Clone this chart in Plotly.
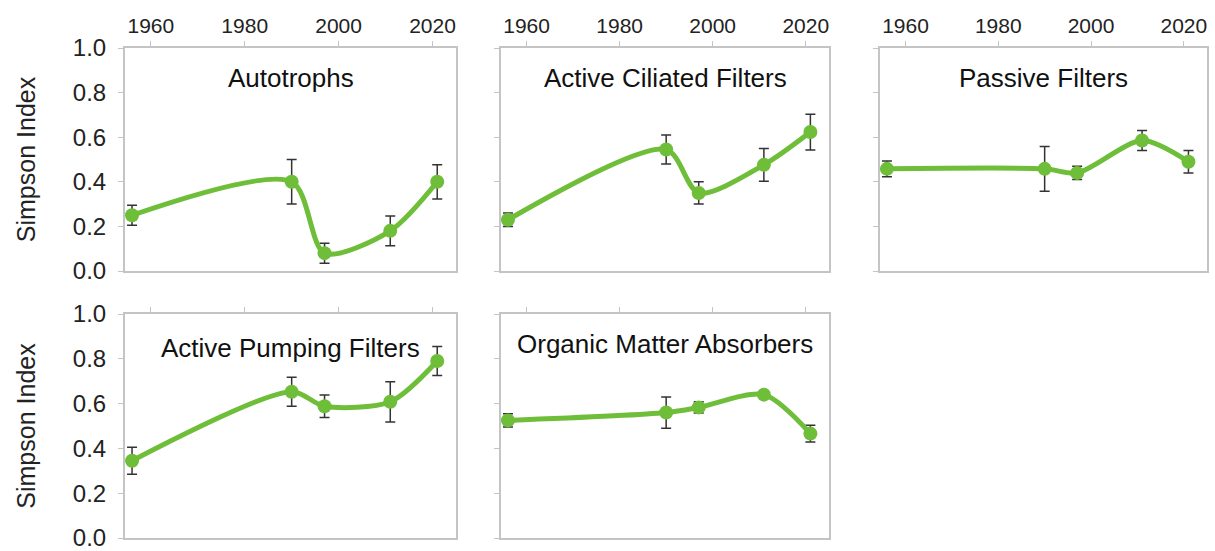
import plotly.graph_objects as go
from plotly.subplots import make_subplots

# Sampling years (shared by all panels)
years = [1956, 1990, 1997, 2011, 2021]

# Simpson index means and error (± half-range) per functional group
autotrophs = [0.25, 0.40, 0.08, 0.18, 0.40]
autotrophs_err = [0.045, 0.10, 0.045, 0.067, 0.077]

ciliated = [0.23, 0.545, 0.35, 0.476, 0.623]
ciliated_err = [0.03, 0.065, 0.05, 0.073, 0.08]

passive = [0.458, 0.458, 0.44, 0.585, 0.49]
passive_err = [0.035, 0.10, 0.03, 0.045, 0.05]

pumping = [0.345, 0.653, 0.588, 0.608, 0.79]
pumping_err = [0.06, 0.065, 0.05, 0.09, 0.065]

organic = [0.525, 0.56, 0.583, 0.64, 0.466]
organic_err = [0.03, 0.07, 0.025, 0.015, 0.037]

panel_titles = ["Autotrophs", "Active Ciliated Filters", "Passive Filters",
                "Active Pumping Filters", "Organic Matter Absorbers"]
panel_data = [(autotrophs, autotrophs_err), (ciliated, ciliated_err),
              (passive, passive_err), (pumping, pumping_err),
              (organic, organic_err)]
panel_pos = [(1, 1), (1, 2), (1, 3), (2, 1), (2, 2)]

x_ticks = [1960, 1980, 2000, 2020]
y_ticks = [0.0, 0.2, 0.4, 0.6, 0.8, 1.0]

GREEN = '#6fbe3a'
AXIS = '#c4c4c4'
FONT = 'Liberation Sans, Arial, sans-serif'

W, H = 1215, 551
col_px = [(125, 456), (501, 829), (880, 1207)]
row_px = [(48, 271), (314, 538)]

fig = make_subplots(rows=2, cols=3)

for (vals, errs), (r, c) in zip(panel_data, panel_pos):
    fig.add_trace(
        go.Scatter(x=years, y=vals, mode='lines+markers',
                   line=dict(color=GREEN, width=5, shape='spline', smoothing=0.8),
                   marker=dict(color=GREEN, size=14),
                   error_y=dict(type='data', array=errs, visible=True,
                                color='#333333', thickness=1.5, width=5),
                   showlegend=False),
        row=r, col=c)

# Explicit panel placement in pixels
for r in range(2):
    for c in range(3):
        idx = r * 3 + c + 1
        suffix = '' if idx == 1 else str(idx)
        x0, x1 = col_px[c]
        y0, y1 = row_px[r]
        fig.layout['xaxis' + suffix].domain = [x0 / W, x1 / W]
        fig.layout['yaxis' + suffix].domain = [1 - y1 / H, 1 - y0 / H]

for r in (1, 2):
    for c in (1, 2, 3):
        visible = not (r == 2 and c == 3)
        fig.update_xaxes(range=[1954.5, 2025], tickvals=x_ticks,
                         side='top', showticklabels=(r == 1), automargin=False,
                         ticklabeloverflow='allow',
                         ticks='outside', ticklen=5, tickcolor=AXIS,
                         showline=True, linecolor=AXIS, linewidth=2, mirror=True,
                         showgrid=False, zeroline=False,
                         tickfont=dict(size=21, color='#222222', family=FONT),
                         visible=visible, row=r, col=c)
        fig.update_yaxes(range=[0, 1], tickvals=y_ticks, tickformat='.1f',
                         showticklabels=(c == 1), automargin=False,
                         ticklabeloverflow='allow',
                         ticks='outside', ticklen=5, tickcolor=AXIS,
                         ticklabelstandoff=7,
                         showline=True, linecolor=AXIS, linewidth=2, mirror=True,
                         showgrid=False, zeroline=False,
                         tickfont=dict(size=24, color='#222222', family=FONT),
                         visible=visible, row=r, col=c)

fig.update_yaxes(title_text='Simpson Index', title_standoff=30,
                 title_font=dict(size=25, color='#222222', family=FONT), col=1)

# Panel titles inside each plot
for title, (r, c) in zip(panel_titles, panel_pos):
    idx = (r - 1) * 3 + c
    suffix = '' if idx == 1 else str(idx)
    fig.add_annotation(text=title, xref='x' + suffix + ' domain',
                       yref='y' + suffix + ' domain', x=0.5,
                       y=0.865 if (r, c) != (2, 1) else 0.85,
                       xanchor='center', yanchor='middle', showarrow=False,
                       font=dict(size=26, color='#111111', family=FONT))

fig.update_layout(width=W, height=H, plot_bgcolor='white', paper_bgcolor='white',
                  margin=dict(l=0, r=0, t=0, b=0), showlegend=False)

# drop the default page margin so the figure fills the window exactly
fig.write_html("out.html", config={'displayModeBar': False},
               post_script="document.body.style.margin='0px';"
                           "document.body.style.overflow='hidden';")
